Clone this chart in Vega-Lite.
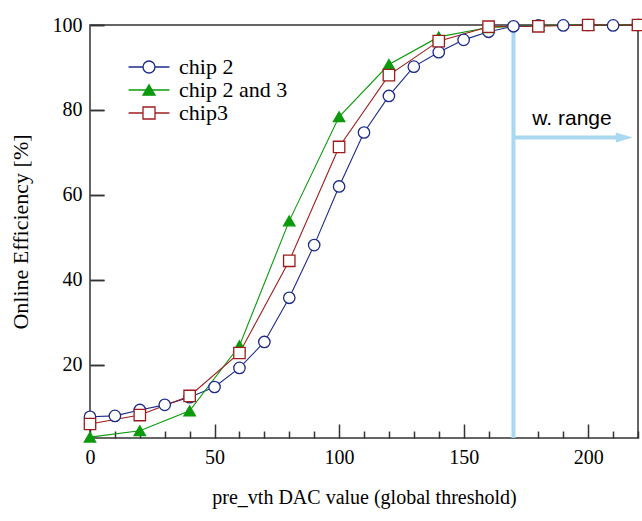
{
  "$schema": "https://vega.github.io/schema/vega-lite/v6.json",
  "width": 548,
  "height": 413,
  "autosize": {"type": "none"},
  "padding": {"left": 90, "top": 25, "right": 4, "bottom": 83},
  "background": "white",
  "config": {
    "view": {"stroke": "#333333", "strokeWidth": 1.5},
    "font": "Liberation Serif",
    "axis": {
      "labelFont": "Liberation Serif",
      "labelFontSize": 20,
      "labelColor": "black",
      "titleFont": "Liberation Serif",
      "titleFontWeight": "normal",
      "titleColor": "black",
      "domain": false,
      "ticks": true,
      "tickColor": "#333333",
      "tickWidth": 1.5,
      "grid": false,
      "labelOverlap": false,
      "labelFlush": false,
      "zindex": 1
    },
    "legend": {
      "labelFont": "Liberation Serif",
      "labelFontSize": 22,
      "labelColor": "black"
    }
  },
  "resolve": {
    "axis": {"x": "independent", "y": "independent"},
    "scale": {"stroke": "independent", "fill": "independent", "shape": "independent"}
  },
  "datasets": {
    "curves": [
      {"x": 0, "eff": 7.8, "series": "chip 2"},
      {"x": 10, "eff": 8.0, "series": "chip 2"},
      {"x": 20, "eff": 9.4, "series": "chip 2"},
      {"x": 30, "eff": 10.6, "series": "chip 2"},
      {"x": 40, "eff": 12.4, "series": "chip 2"},
      {"x": 50, "eff": 14.8, "series": "chip 2"},
      {"x": 60, "eff": 19.3, "series": "chip 2"},
      {"x": 70, "eff": 25.4, "series": "chip 2"},
      {"x": 80, "eff": 35.8, "series": "chip 2"},
      {"x": 90, "eff": 48.2, "series": "chip 2"},
      {"x": 100, "eff": 62.0, "series": "chip 2"},
      {"x": 110, "eff": 74.7, "series": "chip 2"},
      {"x": 120, "eff": 83.3, "series": "chip 2"},
      {"x": 130, "eff": 90.2, "series": "chip 2"},
      {"x": 140, "eff": 93.6, "series": "chip 2"},
      {"x": 150, "eff": 96.5, "series": "chip 2"},
      {"x": 160, "eff": 98.4, "series": "chip 2"},
      {"x": 170, "eff": 99.7, "series": "chip 2"},
      {"x": 180, "eff": 99.9, "series": "chip 2"},
      {"x": 190, "eff": 99.9, "series": "chip 2"},
      {"x": 200, "eff": 100, "series": "chip 2"},
      {"x": 210, "eff": 99.9, "series": "chip 2"},
      {"x": 220, "eff": 100, "series": "chip 2"},
      {"x": 0, "eff": 3.0, "series": "chip 2 and 3"},
      {"x": 20, "eff": 4.5, "series": "chip 2 and 3"},
      {"x": 40, "eff": 9.2, "series": "chip 2 and 3"},
      {"x": 60, "eff": 24.5, "series": "chip 2 and 3"},
      {"x": 80, "eff": 53.9, "series": "chip 2 and 3"},
      {"x": 100, "eff": 78.4, "series": "chip 2 and 3"},
      {"x": 120, "eff": 90.7, "series": "chip 2 and 3"},
      {"x": 140, "eff": 97.2, "series": "chip 2 and 3"},
      {"x": 160, "eff": 99.4, "series": "chip 2 and 3"},
      {"x": 180, "eff": 99.9, "series": "chip 2 and 3"},
      {"x": 200, "eff": 100, "series": "chip 2 and 3"},
      {"x": 220, "eff": 100, "series": "chip 2 and 3"},
      {"x": 0, "eff": 6.1, "series": "chip3"},
      {"x": 20, "eff": 8.2, "series": "chip3"},
      {"x": 40, "eff": 12.7, "series": "chip3"},
      {"x": 60, "eff": 22.8, "series": "chip3"},
      {"x": 80, "eff": 44.5, "series": "chip3"},
      {"x": 100, "eff": 71.3, "series": "chip3"},
      {"x": 120, "eff": 88.2, "series": "chip3"},
      {"x": 140, "eff": 96.2, "series": "chip3"},
      {"x": 160, "eff": 99.6, "series": "chip3"},
      {"x": 180, "eff": 99.7, "series": "chip3"},
      {"x": 200, "eff": 100, "series": "chip3"},
      {"x": 220, "eff": 100, "series": "chip3"}
    ],
    "marker": [{"x": 170, "x2": 214.5, "y": 73.5, "label": "w. range", "tx": 193.5, "ty": 76.5}]
  },
  "layer": [
    {
      "data": {"name": "marker"},
      "mark": {"type": "rule", "color": "#a9d8f0", "strokeWidth": 4},
      "encoding": {
        "x": {"field": "x", "type": "quantitative", "axis": null, "scale": {"domain": [0, 220], "nice": false, "zero": false}}
      }
    },
    {
      "data": {"name": "marker"},
      "mark": {"type": "rule", "color": "#a9d8f0", "strokeWidth": 4},
      "encoding": {
        "x": {"field": "x", "type": "quantitative", "axis": null},
        "x2": {"field": "x2"},
        "y": {"field": "y", "type": "quantitative", "axis": null, "scale": {"domain": [2.8, 100], "nice": false, "zero": false}}
      }
    },
    {
      "data": {"name": "marker"},
      "mark": {"type": "point", "filled": true, "color": "#a9d8f0", "opacity": 1, "shape": "M-1.7,-1L1.7,0L-1.7,1Z", "size": 100},
      "encoding": {
        "x": {"field": "x2", "type": "quantitative", "axis": null},
        "y": {"field": "y", "type": "quantitative", "axis": null}
      }
    },
    {
      "data": {"name": "marker"},
      "mark": {"type": "text", "font": "Liberation Sans", "fontSize": 21, "color": "black", "align": "center", "baseline": "alphabetic"},
      "encoding": {
        "x": {"field": "tx", "type": "quantitative", "axis": null},
        "y": {"field": "ty", "type": "quantitative", "axis": null},
        "text": {"field": "label"}
      }
    },
    {
      "data": {"name": "curves"},
      "mark": {"type": "line", "strokeWidth": 1.1, "clip": false},
      "encoding": {
        "x": {
          "field": "x", "type": "quantitative",
          "title": "pre_vth DAC value (global threshold)",
          "scale": {"domain": [0, 220], "nice": false, "zero": false},
          "axis": {
            "orient": "bottom",
            "values": [0, 50, 100, 150, 200],
            "offset": -14,
            "tickSize": 14,
            "labelPadding": 9,
            "labelBaseline": "top",
            "titleFontSize": 20,
            "titleY": 73,
            "titleBaseline": "middle"
          }
        },
        "y": {
          "field": "eff", "type": "quantitative",
          "title": "Online Efficiency [%]",
          "scale": {"domain": [2.8, 100], "nice": false, "zero": false},
          "axis": {
            "orient": "left",
            "values": [20, 40, 60, 80, 100],
            "offset": -14,
            "ticks": true,
            "tickSize": 14,
            "tickColor": "#333333",
            "tickWidth": 1.5,
            "labelPadding": 8,
            "titleFontSize": 22,
            "titleX": -84,
            "titleBaseline": "middle",
            "titleAngle": -90
          }
        },
        "stroke": {
          "field": "series", "type": "nominal", "title": null,
          "scale": {"domain": ["chip 2", "chip 2 and 3", "chip3"], "range": ["#1c2a8c", "#0b9a0b", "#9c1c1c"]},
          "legend": {
            "orient": "none",
            "legendX": 48,
            "legendY": 31,
            "symbolType": "M-3.4,0H3.4",
            "symbolSize": 144,
            "symbolStrokeWidth": 1.3,
            "labelExpr": "''",
            "labelOffset": 19,
            "rowPadding": 1
          }
        }
      }
    },
    {
      "data": {"name": "curves"},
      "mark": {"type": "point", "filled": true, "opacity": 1, "size": 130, "strokeWidth": 1.3, "clip": false},
      "encoding": {
        "x": {
          "field": "x", "type": "quantitative",
          "axis": {
            "orient": "bottom",
            "values": [10, 20, 30, 40, 60, 70, 80, 90, 110, 120, 130, 140, 160, 170, 180, 190, 210, 220],
            "offset": -7,
            "tickSize": 7,
            "labels": false,
            "title": null
          }
        },
        "y": {
          "field": "eff", "type": "quantitative",
          "axis": {
            "orient": "right",
            "values": [20, 40, 60, 80, 100],
            "offset": -548,
            "ticks": true,
            "tickSize": 14,
            "labels": false,
            "title": null
          }
        },
        "stroke": {
          "field": "series", "type": "nominal", "title": null,
          "scale": {"domain": ["chip 2", "chip 2 and 3", "chip3"], "range": ["#1c2a8c", "#0b9a0b", "#9c1c1c"]},
          "legend": {
            "orient": "none",
            "legendX": 48,
            "legendY": 31,
            "symbolSize": 144,
            "symbolStrokeWidth": 1.3,
            "labelOffset": 19,
            "rowPadding": 1
          }
        },
        "fill": {
          "field": "series", "type": "nominal", "title": null,
          "scale": {"domain": ["chip 2", "chip 2 and 3", "chip3"], "range": ["white", "#0b9a0b", "white"]},
          "legend": {
            "orient": "none",
            "legendX": 48,
            "legendY": 31,
            "symbolSize": 144,
            "symbolStrokeWidth": 1.3,
            "labelOffset": 19,
            "rowPadding": 1
          }
        },
        "shape": {
          "field": "series", "type": "nominal", "title": null,
          "scale": {"domain": ["chip 2", "chip 2 and 3", "chip3"], "range": ["circle", "triangle-up", "square"]},
          "legend": {
            "orient": "none",
            "legendX": 48,
            "legendY": 31,
            "symbolSize": 144,
            "symbolStrokeWidth": 1.3,
            "labelOffset": 19,
            "rowPadding": 1
          }
        }
      }
    }
  ]
}
